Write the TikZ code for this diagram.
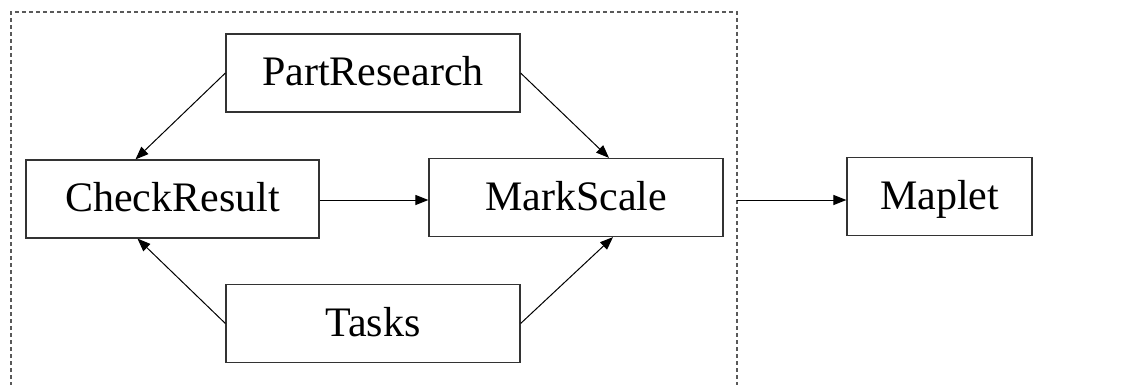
\documentclass[tikz,border=0pt]{standalone}
\usepackage{fontspec}
\setmainfont{Liberation Serif}
\usepackage{tikz}
\usetikzlibrary{arrows.meta, positioning}
\tikzstyle{block} = [rectangle, draw=black!80, line width=1.2pt, minimum height=78pt, inner sep=0pt, text height=31pt, text depth=6pt, text centered, font=\fontsize{42}{50}\selectfont]
\tikzstyle{arrow} = [line width=1pt, -{Triangle[length=13pt, width=10pt]}]
\tikzstyle{frame} = [draw=black!65, line width=1.2pt, dash pattern=on 4pt off 3pt]

\begin{document}
\begin{tikzpicture}[x=1pt, y=-1pt]
            \useasboundingbox (0,0) rectangle (1142,385);
            \node[block, minimum width=294pt] (part) at (373,73) {PartResearch};
            \node[block, minimum width=293pt] (check) at (172.5,199) {CheckResult};
            \node[block, minimum width=294pt] (mark) at (576,197.5) {MarkScale};
            \node[block, minimum width=294pt] (tasks) at (373,323.5) {Tasks};
            \node[block, minimum width=185pt] (maplet) at (939.5,196.5) {Maplet};
            \coordinate (frame-e) at (737,200);
            \draw[frame] (11,400) -- (11,12) -- (737,12) -- (737,400);
            \draw[arrow] (part.west) -- ([xshift=-37pt]check.north);
            \draw[arrow] (part.east) -- ([xshift=33pt]mark.north);
            \draw[arrow] (check.east |- 0,200) -- (mark.west |- 0,200);
            \draw[arrow] (tasks.west) -- ([xshift=-35pt]check.south);
            \draw[arrow] (tasks.east) -- ([xshift=37pt]mark.south);
            \draw[arrow] (frame-e) -- (maplet.west |- frame-e);
        \end{tikzpicture}
\end{document}
